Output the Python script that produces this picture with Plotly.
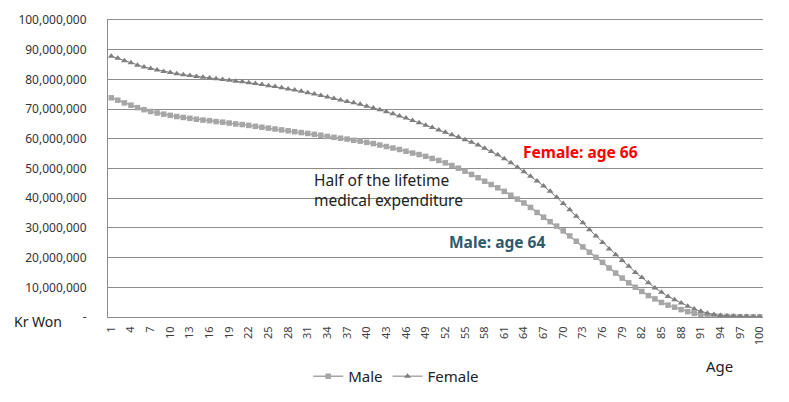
import plotly.graph_objects as go

ages = list(range(1, 101))

male = [73.8, 73.0, 72.1, 71.3, 70.5, 69.8, 69.2, 68.7, 68.3, 67.9,
        67.5, 67.2, 66.9, 66.6, 66.3, 66.1, 65.8, 65.6, 65.3, 65.0,
        64.8, 64.5, 64.2, 63.9, 63.6, 63.3, 63.0, 62.7, 62.4, 62.1,
        61.8, 61.5, 61.2, 60.8, 60.5, 60.2, 59.9, 59.5, 59.2, 58.8,
        58.4, 57.9, 57.4, 56.9, 56.4, 55.8, 55.2, 54.7, 54.1, 53.4,
        52.7, 51.9, 51.0, 50.1, 49.1, 48.0, 46.9, 45.7, 44.6, 43.5,
        42.3, 41.0, 39.7, 38.4, 36.9, 35.2, 33.6, 32.1, 30.6, 29.0,
        27.3, 25.5, 23.6, 21.8, 20.1, 18.4, 16.5, 14.8, 13.1, 11.5,
        10.0, 8.6, 7.2, 6.1, 4.9, 4.0, 3.3, 2.5, 1.8, 1.2,
        0.8, 0.5, 0.35, 0.25, 0.2, 0.15, 0.1, 0.08, 0.05, 0.03]

female = [87.8, 87.1, 86.3, 85.6, 84.8, 84.2, 83.7, 83.2, 82.7, 82.3,
          81.9, 81.6, 81.3, 81.0, 80.7, 80.5, 80.2, 80.0, 79.7, 79.4,
          79.2, 78.9, 78.6, 78.3, 77.9, 77.6, 77.2, 76.8, 76.4, 76.0,
          75.5, 75.1, 74.6, 74.1, 73.6, 73.1, 72.6, 72.1, 71.6, 71.0,
          70.4, 69.8, 69.1, 68.4, 67.7, 67.0, 66.2, 65.4, 64.6, 63.8,
          63.0, 62.2, 61.4, 60.6, 59.7, 58.8, 57.9, 56.8, 55.7, 54.6,
          53.3, 51.9, 50.4, 48.9, 47.4, 45.8, 44.1, 42.3, 40.3, 38.2,
          36.1, 33.9, 31.7, 29.4, 27.3, 25.1, 22.9, 21.0, 19.0, 17.1,
          15.0, 13.3, 11.5, 9.8, 8.3, 6.9, 5.8, 4.7, 3.6, 2.7,
          1.9, 1.3, 0.8, 0.5, 0.35, 0.25, 0.2, 0.15, 0.1, 0.05]

# millions of won -> won
male_won = [v * 1e6 for v in male]
female_won = [v * 1e6 for v in female]

x_ticks = list(range(1, 101, 3))
y_ticks = list(range(0, 100_000_001, 10_000_000))
y_labels = ["-"] + [f"{v:,}" for v in y_ticks[1:]]

FONT = "Noto Sans, Open Sans, sans-serif"
GRID = "#8c8c8c"

fig = go.Figure()
fig.add_trace(go.Scatter(x=ages, y=male_won, name="Male", mode="lines+markers",
                         line=dict(color="#a6a6a6", width=1.5),
                         marker=dict(symbol="square", size=5.5, color="#a6a6a6")))
fig.add_trace(go.Scatter(x=ages, y=female_won, name="Female", mode="lines+markers",
                         line=dict(color="#7f7f7f", width=1),
                         marker=dict(symbol="triangle-up", size=6, color="#7f7f7f")))

# page body adds ~8px offset, so margins are shifted up/left
fig.update_layout(
    width=789, height=402,
    margin=dict(l=100, r=34, t=12, b=93),
    paper_bgcolor="white", plot_bgcolor="white",
    font=dict(family=FONT, size=12, color="#333333"),
    showlegend=True,
    legend=dict(orientation="h", x=0.44, xanchor="center", y=-0.2, yanchor="middle",
                font=dict(size=15, color="#222222"), itemwidth=30),
)

fig.update_xaxes(range=[0.5, 100.5], tickmode="array", tickvals=x_ticks,
                 ticktext=[str(t) for t in x_ticks], tickangle=-90,
                 tickfont=dict(size=11, color="#404040"), showgrid=False,
                 showline=True, mirror=True, linecolor=GRID, linewidth=1, ticks="",
                 ticklabelstandoff=4, zeroline=False, automargin=False)
fig.update_yaxes(range=[0, 100_000_000], tickmode="array", tickvals=y_ticks,
                 ticktext=y_labels, tickfont=dict(size=12, color="#333333"),
                 showgrid=True, gridcolor=GRID, gridwidth=1, showline=True,
                 linecolor=GRID, linewidth=1, ticks="", ticklabelstandoff=18,
                 zeroline=False, automargin=False)

fig.add_annotation(x=72.6, y=55.4e6, text="<b>Female: age 66</b>", showarrow=False,
                   font=dict(size=15.5, color="#ff0000"))
fig.add_annotation(x=59.9, y=25.4e6, text="<b>Male: age 64</b>", showarrow=False,
                   font=dict(size=15.5, color="#2f5a6b"))
fig.add_annotation(x=31.7, y=42.9e6, text="Half of the lifetime<br>medical expenditure",
                   showarrow=False, xanchor="left", align="left",
                   font=dict(size=15.5, color="#222222"))
fig.add_annotation(xref="paper", yref="paper", x=-0.147, y=-0.016, xanchor="left",
                   yanchor="middle", text="Kr Won", showarrow=False,
                   font=dict(size=14, color="#222222"))
fig.add_annotation(xref="paper", yref="paper", x=0.934, y=-0.165, xanchor="center",
                   yanchor="middle", text="Age", showarrow=False,
                   font=dict(size=15, color="#222222"))

fig.write_html("out.html")
